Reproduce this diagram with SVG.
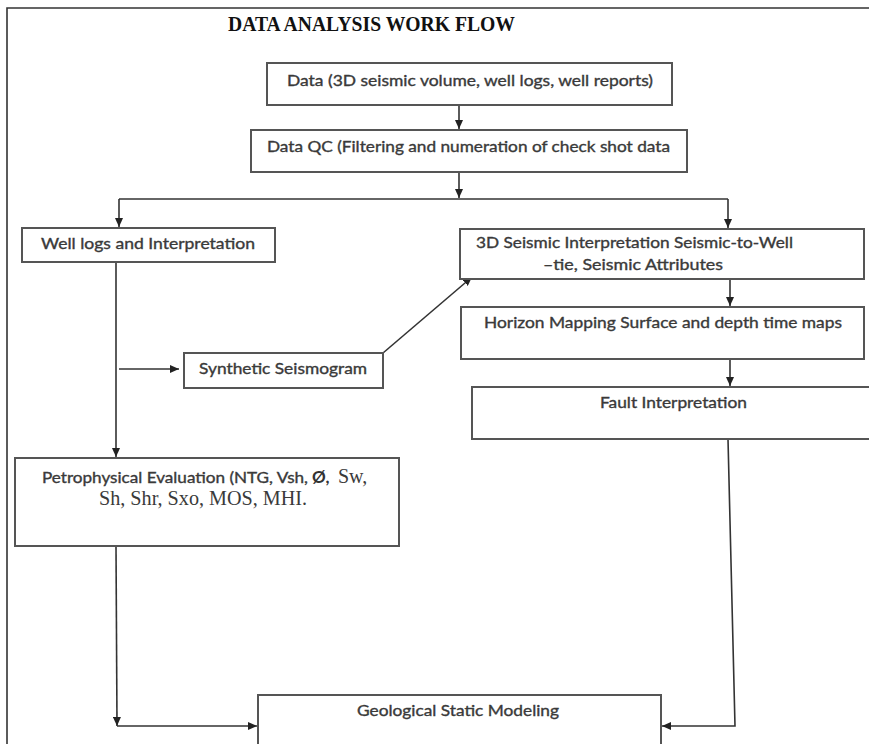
<svg xmlns="http://www.w3.org/2000/svg" width="869" height="744" viewBox="0 0 869 744">
<style>
.box{fill:#fff;stroke:#555;stroke-width:2}
.ln{fill:none;stroke:#333;stroke-width:1.6}
.t{font-family:Lato,"Liberation Sans",sans-serif;font-size:15px;fill:#3a3a3a;stroke:#3a3a3a;stroke-width:0.35}
.s{font-family:"Liberation Serif","Times New Roman",serif;font-size:20px;fill:#3a3a3a}
.title{font-family:"Liberation Serif","Times New Roman",serif;font-size:20px;font-weight:bold;fill:#111}
</style>
<defs>
<marker id="ah" markerWidth="10" markerHeight="8" refX="9" refY="4" orient="auto" markerUnits="userSpaceOnUse">
<path d="M0,0 L9,4 L0,8 Z" fill="#222"/>
</marker>
</defs>
<rect width="869" height="744" fill="#fff"/>
<g id="frame">
<path class="ln" d="M7,744 V8 H869" stroke-width="1.5"/>
</g>
<g id="title">
<text class="title" x="228" y="31" textLength="287" lengthAdjust="spacingAndGlyphs">DATA ANALYSIS WORK FLOW</text>
</g>
<g id="connectors">
<path class="ln" d="M459,105 V129" marker-end="url(#ah)"/>
<path class="ln" d="M459,172 V198" marker-end="url(#ah)"/>
<path class="ln" d="M119,199 H728"/>
<path class="ln" d="M119,199 V227" marker-end="url(#ah)"/>
<path class="ln" d="M728,199 V228" marker-end="url(#ah)"/>
<path class="ln" d="M116,262 V457" marker-end="url(#ah)"/>
<path class="ln" d="M119,369 H179" marker-end="url(#ah)"/>
<path class="ln" d="M383,353 L472,277" marker-end="url(#ah)"/>
<path class="ln" d="M730,279 V306" marker-end="url(#ah)"/>
<path class="ln" d="M730,359 V386" marker-end="url(#ah)"/>
<path class="ln" d="M728,439 L735,726 H662" marker-end="url(#ah)"/>
<path class="ln" d="M116,546 L117,726" marker-end="url(#ah)"/>
<path class="ln" d="M117,726 H257" marker-end="url(#ah)"/>
</g>
<g id="data">
<rect class="box" x="267" y="63" width="405" height="42"/>
<text class="t" x="287" y="86" textLength="366" lengthAdjust="spacingAndGlyphs">Data (3D seismic volume, well logs, well reports)</text>
</g>
<g id="dataqc">
<rect class="box" x="251" y="130" width="436" height="42"/>
<text class="t" x="267" y="152" textLength="403" lengthAdjust="spacingAndGlyphs">Data QC (Filtering and numeration of check shot data</text>
</g>
<g id="welllogs">
<rect class="box" x="22" y="228" width="253" height="34"/>
<text class="t" x="41" y="249" textLength="214" lengthAdjust="spacingAndGlyphs">Well logs and Interpretation</text>
</g>
<g id="seismic3d">
<rect class="box" x="460" y="229" width="404" height="50"/>
<text class="t" x="476" y="248" textLength="317" lengthAdjust="spacingAndGlyphs">3D Seismic Interpretation Seismic-to-Well</text>
<text class="t" x="543" y="270" textLength="180" lengthAdjust="spacingAndGlyphs">–tie, Seismic Attributes</text>
</g>
<g id="synthetic">
<rect class="box" x="184" y="353" width="199" height="35"/>
<text class="t" x="199" y="374" textLength="168" lengthAdjust="spacingAndGlyphs">Synthetic Seismogram</text>
</g>
<g id="horizon">
<rect class="box" x="461" y="307" width="403" height="52"/>
<text class="t" x="484" y="328" textLength="358" lengthAdjust="spacingAndGlyphs">Horizon Mapping Surface and depth time maps</text>
</g>
<g id="fault">
<rect class="box" x="472" y="387" width="420" height="52"/>
<text class="t" x="600" y="408" textLength="147" lengthAdjust="spacingAndGlyphs">Fault Interpretation</text>
</g>
<g id="petro">
<rect class="box" x="15" y="458" width="384" height="88"/>
<text y="483"><tspan class="t" x="42" textLength="266" lengthAdjust="spacingAndGlyphs">Petrophysical Evaluation (NTG, Vsh,</tspan><tspan x="312" font-family="Lato,'Liberation Sans',sans-serif" font-size="17" font-weight="bold" fill="#333">Ø,</tspan><tspan class="s" x="338">Sw,</tspan></text>
<text class="s" x="99" y="505" textLength="208" lengthAdjust="spacingAndGlyphs">Sh, Shr, Sxo, MOS, MHI.</text>
</g>
<g id="geological">
<rect class="box" x="258" y="695" width="403" height="60"/>
<text class="t" x="357" y="716" textLength="202" lengthAdjust="spacingAndGlyphs">Geological Static Modeling</text>
</g>
</svg>
